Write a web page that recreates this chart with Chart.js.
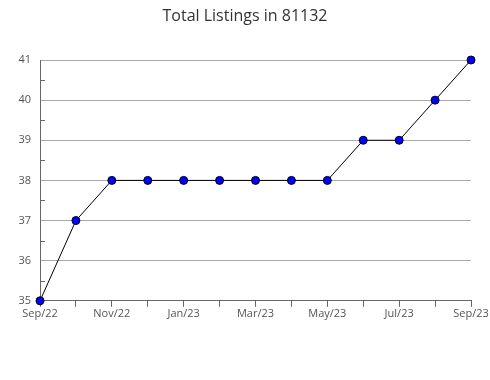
<!DOCTYPE html>
<html>
<head>
<meta charset="utf-8">
<script src="https://cdn.jsdelivr.net/npm/chart.js@4.4.0/dist/chart.umd.min.js"></script>
<style>
  html, body { margin: 0; padding: 0; background: #fff; }
  #wrap { width: 490px; height: 380px; }
</style>
</head>
<body>
<div id="wrap"><canvas id="chart"></canvas></div>
<script>
// data
const months = ['Sep/22', 'Oct/22', 'Nov/22', 'Dec/22', 'Jan/23', 'Feb/23', 'Mar/23',
                'Apr/23', 'May/23', 'Jun/23', 'Jul/23', 'Aug/23', 'Sep/23'];
const listings = [35, 37, 38, 38, 38, 38, 38, 38, 38, 39, 39, 40, 41];
const yMin = 35;
const yMax = 41;
const chartTitle = 'Total Listings in 81132';

// small inward ticks between the whole numbers on the y axis,
// and the title centred on the whole canvas (not the padded area)
const extras = {
    id: 'extras',
    afterDraw(chart) {
        const y = chart.scales.y;
        const ctx = chart.ctx;
        ctx.save();
        ctx.strokeStyle = '#666';
        ctx.lineWidth = 1;
        for (let v = yMin + 0.5; v < yMax; v += 1) {
            const py = Math.round(y.getPixelForValue(v)) + 0.5;
            ctx.beginPath();
            ctx.moveTo(y.right, py);
            ctx.lineTo(y.right + 5, py);
            ctx.stroke();
        }
        ctx.fillStyle = '#333';
        ctx.font = '16px "Open Sans"';
        ctx.textAlign = 'center';
        ctx.textBaseline = 'middle';
        ctx.fillText(chartTitle, chart.width / 2, 16);
        ctx.restore();
    }
};

new Chart(document.getElementById('chart'), {
    type: 'line',
    data: {
        labels: months,
        datasets: [{
            data: listings,
            borderColor: '#000',
            borderWidth: 1,
            backgroundColor: '#0000ff',
            pointBackgroundColor: '#0000ff',
            pointBorderColor: '#000',
            pointBorderWidth: 1,
            pointRadius: 4,
            tension: 0,
            clip: false
        }]
    },
    options: {
        responsive: true,
        maintainAspectRatio: false,
        animation: false,
        layout: { padding: { top: 60, right: 19, bottom: 60, left: 0 } },
        plugins: {
            legend: { display: false },
            tooltip: { enabled: false },
            title: { display: false }
        },
        scales: {
            x: {
                offset: false,
                grid: {
                    drawOnChartArea: false,
                    drawTicks: true,
                    tickLength: 6,
                    color: '#666'
                },
                border: { color: '#666' },
                ticks: {
                    autoSkip: false,
                    maxRotation: 0,
                    color: '#555',
                    padding: 0,
                    font: { family: '"Open Sans"', size: 11 },
                    callback: (v, i) => (i % 2 === 0 ? months[i] : '')
                }
            },
            y: {
                min: yMin,
                max: yMax,
                afterFit: s => { s.width = 40; },
                grid: {
                    color: '#aaa',
                    drawTicks: false
                },
                border: { color: '#666' },
                ticks: {
                    stepSize: 1,
                    color: '#555',
                    padding: 9,
                    font: { family: '"Open Sans"', size: 11 }
                }
            }
        }
    },
    plugins: [extras]
});
</script>
</body>
</html>
